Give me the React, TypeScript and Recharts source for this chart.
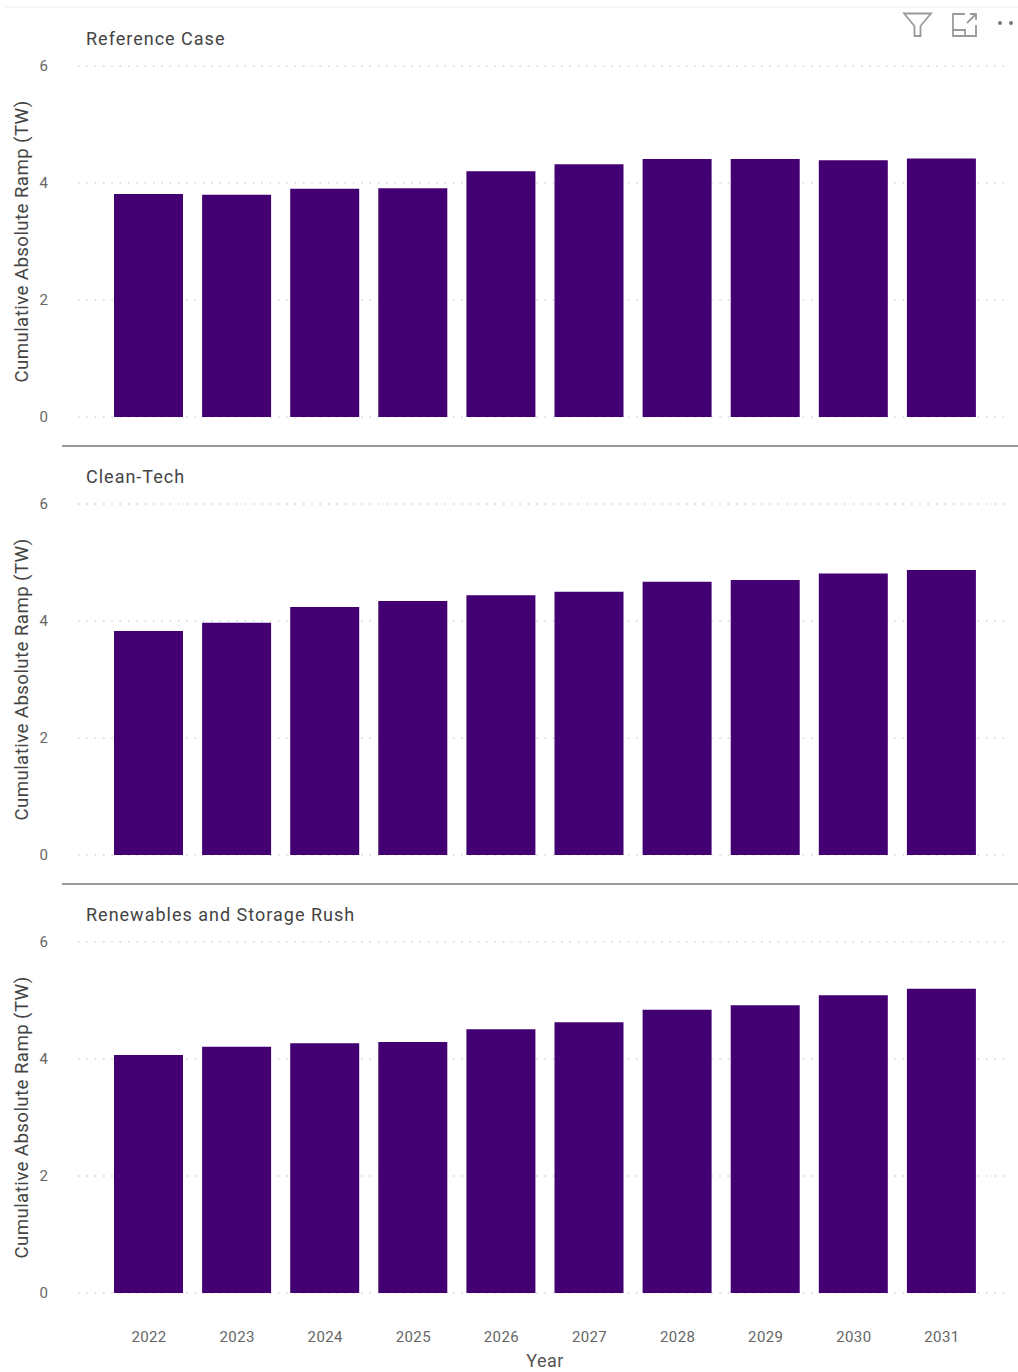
import React from "react";
import { BarChart, Bar, XAxis, YAxis, CartesianGrid } from "recharts";

const years = ["2022", "2023", "2024", "2025", "2026", "2027", "2028", "2029", "2030", "2031"];
const referenceCase = [3.81, 3.8, 3.9, 3.91, 4.2, 4.32, 4.41, 4.41, 4.39, 4.42];
const cleanTech = [3.83, 3.97, 4.24, 4.34, 4.44, 4.5, 4.67, 4.7, 4.81, 4.87];
const renewablesRush = [4.07, 4.21, 4.27, 4.29, 4.51, 4.63, 4.84, 4.92, 5.09, 5.2];
const yTicks = [0, 2, 4, 6];

const FONT = "Roboto, 'Noto Sans', sans-serif";
const toRows = (vals: number[]) => years.map((year, i) => ({ year, value: vals[i] }));

function Panel({ top, title, values, showX }: { top: number; title: string; values: number[]; showX?: boolean }) {
  const height = showX ? 496 : 438;
  return (
    <div style={{ position: "absolute", left: 0, top, width: 1018, height }}>
      <BarChart
        width={1018}
        height={height}
        data={toRows(values)}
        margin={{ top: 66, right: 12, left: 0, bottom: showX ? 0 : 21 }}
        barSize={69}
      >
        <CartesianGrid vertical={false} stroke="#bdbdbd" strokeDasharray="1.5 6.83" />
        <XAxis
          dataKey="year"
          hide={!showX}
          height={79}
          axisLine={false}
          tickLine={false}
          padding={{ left: 26, right: 21 }}
          tickMargin={32}
          tick={{ fontSize: 15, fill: "#666666", fontFamily: FONT, dx: 1, style: { letterSpacing: 0.4 } }}
          label={{
            value: "Year",
            position: "insideBottom",
            offset: 5,
            dx: 3,
            style: { fontSize: 18, fill: "#555555", fontFamily: FONT, letterSpacing: 0.5 },
          }}
        />
        <YAxis
          width={78}
          domain={[0, 6]}
          ticks={yTicks}
          axisLine={false}
          tickLine={false}
          tickMargin={24}
          tick={{ fontSize: 15, fill: "#666666", fontFamily: FONT }}
          label={{
            value: "Cumulative Absolute Ramp (TW)",
            angle: -90,
            position: "insideLeft",
            offset: 21,
            style: { textAnchor: "middle", fontSize: 18.7, letterSpacing: 0.4, fill: "#444444", fontFamily: FONT },
          }}
        />
        <Bar dataKey="value" fill="#420073" isAnimationActive={false} />
      </BarChart>
      <div
        style={{
          position: "absolute",
          left: 86,
          top: 28,
          fontFamily: FONT,
          fontSize: 18,
          lineHeight: "22px",
          letterSpacing: 1,
          color: "#444444",
          whiteSpace: "nowrap",
        }}
      >
        {title}
      </div>
    </div>
  );
}

function Separator({ top }: { top: number }) {
  return <div style={{ position: "absolute", left: 62, top, width: 956, height: 2, background: "#9a9a9a" }} />;
}

export default function App() {
  return (
    <div style={{ position: "absolute", left: 0, top: 0, width: 1018, height: 1372, overflow: "hidden", background: "#fff" }}>
      <div style={{ position: "absolute", left: 5, top: 6, width: 1013, height: 2, background: "#f7f7f7" }} />
      <Panel top={0} title="Reference Case" values={referenceCase} />
      <Panel top={438} title="Clean-Tech" values={cleanTech} />
      <Panel top={876} title="Renewables and Storage Rush" values={renewablesRush} showX />
      <Separator top={445} />
      <Separator top={883} />
      <svg style={{ position: "absolute", left: 895, top: 8 }} width={123} height={32} fill="none" stroke="#9a9a9a" strokeWidth={1.8}>
        <path d="M9 5.5 H36 L25.5 18 V28 H19.5 V18 Z" />
        <path d="M70 6 H58 V28 H81 V17 M58 22 H70 V28 M72 15 L81 6 M75 6 H81 V12" />
        <circle cx={105} cy={15} r={2} fill="#777" stroke="none" />
        <circle cx={116} cy={15} r={2} fill="#777" stroke="none" />
      </svg>
    </div>
  );
}
